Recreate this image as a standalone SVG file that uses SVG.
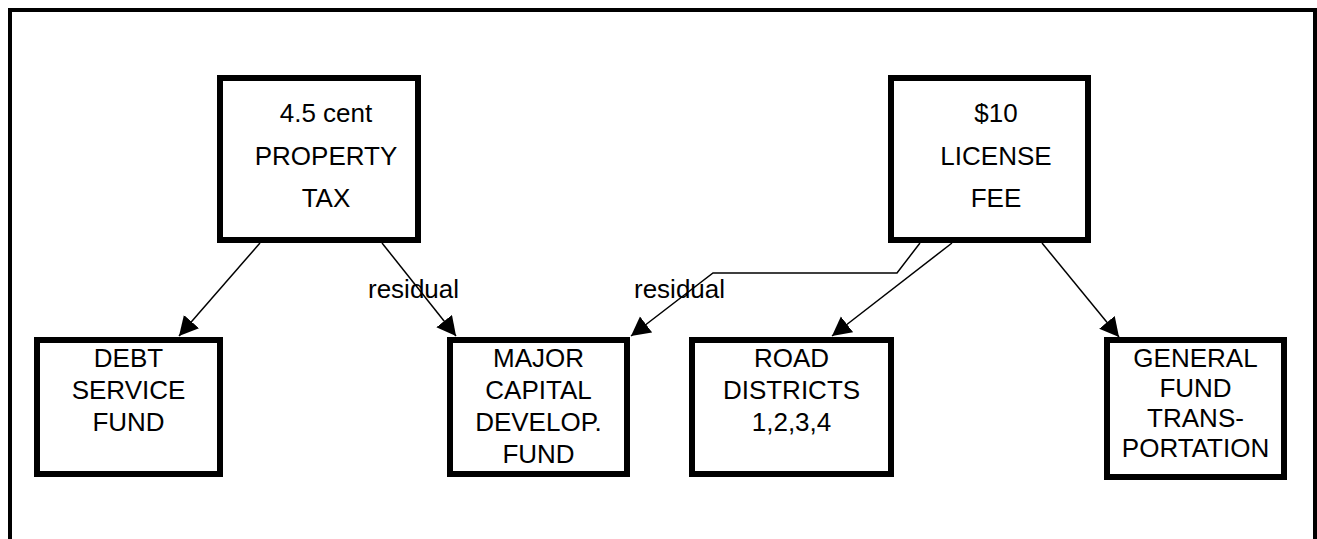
<svg xmlns="http://www.w3.org/2000/svg" width="1317" height="539" viewBox="0 0 1317 539">
<style>
.box{fill:#fff;stroke:#000;stroke-width:6}
.t{font-family:"Liberation Sans",Arial,sans-serif;font-size:26px;fill:#000;text-anchor:middle}
.lbl{font-family:"Liberation Sans",Arial,sans-serif;font-size:26px;fill:#000}
.c{fill:none;stroke:#000;stroke-width:1.5}
</style>
<defs>
<marker id="ah" markerUnits="userSpaceOnUse" markerWidth="22" markerHeight="22" refX="19" refY="10" orient="auto">
<path d="M0,0 L19,10 L0,20 Z" fill="#000"/>
</marker>
</defs>
<path d="M10,539 V10 H1315 V539" fill="none" stroke="#000" stroke-width="4"/>
<g id="connectors">
<line class="c" x1="260" y1="243" x2="179" y2="336" marker-end="url(#ah)"/>
<line class="c" x1="382" y1="243" x2="456" y2="336" marker-end="url(#ah)"/>
<polyline class="c" stroke-width="1.2" points="920,243 897,273 713,273 631,336" marker-end="url(#ah)"/>
<line class="c" x1="952" y1="243" x2="832" y2="336" marker-end="url(#ah)"/>
<line class="c" x1="1042" y1="243" x2="1119" y2="337" marker-end="url(#ah)"/>
<text class="lbl" x="368" y="298">residual</text>
<text class="lbl" x="634" y="298">residual</text>
</g>
<g id="property-tax">
<rect class="box" x="220" y="78" width="198" height="162"/>
<text class="t" x="326" y="122">4.5 cent</text>
<text class="t" x="326" y="165">PROPERTY</text>
<text class="t" x="326" y="207">TAX</text>
</g>
<g id="license-fee">
<rect class="box" x="891" y="78" width="197" height="162"/>
<text class="t" x="996" y="122">$10</text>
<text class="t" x="996" y="165">LICENSE</text>
<text class="t" x="996" y="207">FEE</text>
</g>
<g id="debt-service">
<rect class="box" x="37" y="340" width="183" height="134"/>
<text class="t" x="128.5" y="367">DEBT</text>
<text class="t" x="128.5" y="399">SERVICE</text>
<text class="t" x="128.5" y="431">FUND</text>
</g>
<g id="major-capital">
<rect class="box" x="450" y="340" width="177" height="134"/>
<text class="t" x="538.5" y="367">MAJOR</text>
<text class="t" x="538.5" y="399">CAPITAL</text>
<text class="t" x="538.5" y="431">DEVELOP.</text>
<text class="t" x="538.5" y="463">FUND</text>
</g>
<g id="road-districts">
<rect class="box" x="692" y="340" width="199" height="134"/>
<text class="t" x="791.5" y="367">ROAD</text>
<text class="t" x="791.5" y="399">DISTRICTS</text>
<text class="t" x="791.5" y="431">1,2,3,4</text>
</g>
<g id="general-fund">
<rect class="box" x="1107" y="340" width="177" height="137"/>
<text class="t" x="1195.5" y="367">GENERAL</text>
<text class="t" x="1195.5" y="397">FUND</text>
<text class="t" x="1195.5" y="427">TRANS-</text>
<text class="t" x="1195.5" y="457">PORTATION</text>
</g>
</svg>
